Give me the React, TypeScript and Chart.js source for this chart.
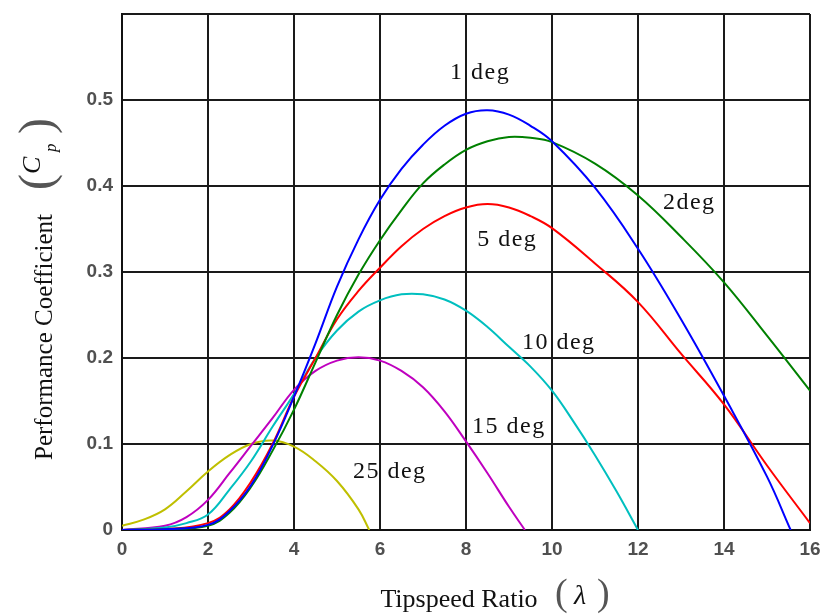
import React, { useEffect, useRef } from 'react';
import { Chart, registerables } from 'chart.js';

Chart.register(...registerables);

// ---- data ----
const seriesNames = ['1 deg', '2 deg', '5 deg', '10 deg', '15 deg', '25 deg'];
const seriesColors = ['#0000ff', '#008000', '#ff0000', '#00bfbf', '#bf00bf', '#bfbf00'];

const lambda1 = [0, 1, 2, 2.5, 3, 3.5, 4, 4.5, 5, 5.5, 6, 6.5, 7, 7.5, 8, 8.5, 9, 9.5, 10, 11, 12, 13, 14, 15, 15.55];
const cp1 = [0, 0.001, 0.006, 0.022, 0.052, 0.098, 0.155, 0.217, 0.283, 0.338, 0.384, 0.42, 0.448, 0.47, 0.484, 0.488, 0.483, 0.47, 0.452, 0.398, 0.327, 0.245, 0.156, 0.062, 0];

const lambda2 = [0, 1, 2, 2.5, 3, 3.5, 4, 4.5, 5, 5.5, 6, 6.5, 7, 7.5, 8, 8.5, 9, 9.5, 10, 11, 12, 13, 14, 15, 16];
const cp2 = [0, 0.001, 0.005, 0.02, 0.05, 0.092, 0.14, 0.195, 0.25, 0.297, 0.337, 0.372, 0.403, 0.425, 0.442, 0.452, 0.457, 0.456, 0.451, 0.426, 0.389, 0.341, 0.288, 0.226, 0.162];

const lambda5 = [0, 1, 2, 2.5, 3, 3.5, 4, 4.5, 5, 5.5, 6, 6.5, 7, 7.5, 8, 8.5, 9, 9.5, 10, 11, 12, 13, 14, 15, 16];
const cp5 = [0, 0.001, 0.008, 0.024, 0.056, 0.1, 0.155, 0.2, 0.245, 0.278, 0.305, 0.33, 0.35, 0.365, 0.375, 0.379, 0.375, 0.365, 0.351, 0.31, 0.265, 0.205, 0.146, 0.075, 0.008];

const lambda10 = [0, 1, 1.5, 2, 2.5, 3, 3.5, 4, 4.5, 5, 5.5, 6, 6.5, 7, 7.5, 8, 8.5, 9, 9.5, 10, 10.5, 11, 11.5, 12];
const cp10 = [0, 0.003, 0.008, 0.018, 0.047, 0.08, 0.12, 0.158, 0.2, 0.232, 0.254, 0.267, 0.274, 0.274, 0.268, 0.255, 0.236, 0.213, 0.19, 0.162, 0.126, 0.087, 0.045, 0];

const lambda15 = [0, 1, 1.5, 2, 2.5, 3, 3.5, 4, 4.5, 5, 5.5, 6, 6.5, 7, 7.5, 8, 8.5, 9, 9.37];
const cp15 = [0, 0.005, 0.015, 0.035, 0.066, 0.098, 0.13, 0.163, 0.185, 0.197, 0.201, 0.197, 0.185, 0.166, 0.138, 0.103, 0.066, 0.027, 0];

const lambda25 = [0, 0.5, 1, 1.5, 2, 2.5, 3, 3.5, 4, 4.5, 5, 5.5, 5.75];
const cp25 = [0.005, 0.012, 0.024, 0.045, 0.068, 0.087, 0.1, 0.104, 0.097, 0.08, 0.057, 0.024, 0];

const seriesLambda = [lambda1, lambda2, lambda5, lambda10, lambda15, lambda25];
const seriesCp = [cp1, cp2, cp5, cp10, cp15, cp25];

const xTickValues = [0, 2, 4, 6, 8, 10, 12, 14, 16];
const xTickLabels = ['0', '2', '4', '6', '8', '10', '12', '14', '16'];
const yTickValues = [0, 0.1, 0.2, 0.3, 0.4, 0.5, 0.6];
const yTickLabels = ['0', '0.1', '0.2', '0.3', '0.4', '0.5', ''];

// curve annotations: text, left lambda, baseline Cp
const curveLabels = ['1 deg', '2deg', '5 deg', '10 deg', '15 deg', '25 deg'];
const curveLabelLambda = [7.63, 12.58, 8.26, 9.3, 8.14, 5.37];
const curveLabelCp = [0.524, 0.3735, 0.3306, 0.211, 0.1125, 0.06];

const SERIF = '"Liberation Serif", "Times New Roman", serif';

const annotationPlugin = {
  id: 'annotations',
  afterDraw(chart: any) {
    const ctx = chart.ctx as CanvasRenderingContext2D;
    const xs = chart.scales.x;
    const ys = chart.scales.y;
    ctx.save();
    ctx.fillStyle = '#111';
    ctx.font = `24px ${SERIF}`;
    (ctx as any).letterSpacing = '1.5px';
    ctx.textAlign = 'left';
    ctx.textBaseline = 'alphabetic';
    curveLabels.forEach((t, i) => {
      ctx.fillText(t, xs.getPixelForValue(curveLabelLambda[i]), ys.getPixelForValue(curveLabelCp[i]));
    });
    (ctx as any).letterSpacing = '0px';

    // x axis title
    ctx.fillStyle = '#111';
    ctx.font = `26px ${SERIF}`;
    ctx.textAlign = 'center';
    ctx.fillText('Tipspeed Ratio', 459, 607);
    ctx.fillStyle = '#555';
    ctx.font = `38px ${SERIF}`;
    ctx.textAlign = 'left';
    ctx.fillText('(', 555, 605);
    ctx.fillText(')', 597, 605);
    ctx.fillStyle = '#111';
    ctx.font = `italic 28px ${SERIF}`;
    ctx.fillText('λ', 574, 604);

    // y axis title (rotated)
    ctx.translate(52, 337);
    ctx.rotate(-Math.PI / 2);
    ctx.fillStyle = '#111';
    ctx.font = `25px ${SERIF}`;
    ctx.textAlign = 'center';
    ctx.fillText('Performance Coefficient', 0, 0);
    ctx.textAlign = 'left';
    ctx.fillStyle = '#555';
    ctx.font = `48px ${SERIF}`;
    ctx.fillText('(', 147, 0);
    ctx.fillText(')', 203, 0);
    ctx.fillStyle = '#111';
    ctx.font = `italic 26px ${SERIF}`;
    ctx.fillText('C', 163, -12);
    ctx.font = `italic 17px ${SERIF}`;
    ctx.fillText('p', 185, 4);
    ctx.restore();
  },
};

export default function App() {
  const ref = useRef<HTMLCanvasElement | null>(null);
  useEffect(() => {
    document.body.style.margin = '0';
    if (!ref.current) return;
    const datasets = seriesNames.map((name, i) => ({
      label: name,
      data: seriesLambda[i].map((x, j) => ({ x, y: seriesCp[i][j] })),
      borderColor: seriesColors[i],
      backgroundColor: seriesColors[i],
      borderWidth: 2,
      pointRadius: 0,
      fill: false,
      tension: 0.4,
    }));
    const tickFont = { family: '"Liberation Sans", Arial, sans-serif', size: 19, weight: 'bold' as const };
    const chart = new Chart(ref.current, {
      type: 'line',
      data: { datasets },
      plugins: [annotationPlugin],
      options: {
        animation: false,
        responsive: false,
        devicePixelRatio: 1,
        layout: { padding: { top: 14, right: 13, left: 0, bottom: 0 } },
        plugins: { legend: { display: false }, tooltip: { enabled: false } },
        scales: {
          x: {
            type: 'linear',
            min: 0,
            max: 16,
            afterBuildTicks: (s: any) => {
              s.ticks = xTickValues.map((v) => ({ value: v }));
            },
            afterFit: (s: any) => {
              s.height = 86;
              s.paddingLeft = 0;
              s.paddingRight = 0;
            },
            ticks: {
              callback: (v: any) => {
                const k = xTickValues.indexOf(Number(v));
                return k >= 0 ? xTickLabels[k] : '';
              },
              font: tickFont,
              color: '#505050',
              padding: 8,
              maxRotation: 0,
              autoSkip: false,
            },
            grid: { color: '#1a1a1a', lineWidth: 2, drawTicks: false },
            border: { display: true, color: '#111', width: 2 },
          },
          y: {
            type: 'linear',
            min: 0,
            max: 0.6,
            afterBuildTicks: (s: any) => {
              s.ticks = yTickValues.map((v) => ({ value: v }));
            },
            afterFit: (s: any) => {
              s.width = 122;
              s.paddingTop = 0;
              s.paddingBottom = 0;
            },
            ticks: {
              callback: (v: any) => {
                const k = yTickValues.findIndex((t) => Math.abs(t - Number(v)) < 1e-6);
                return k >= 0 ? yTickLabels[k] : '';
              },
              font: tickFont,
              color: '#505050',
              padding: 9,
              autoSkip: false,
            },
            grid: { color: '#1a1a1a', lineWidth: 2, drawTicks: false },
            border: { display: true, color: '#111', width: 2 },
          },
        },
      },
    });
    return () => chart.destroy();
  }, []);
  return <canvas ref={ref} width={823} height={616} style={{ display: 'block' }} />;
}
